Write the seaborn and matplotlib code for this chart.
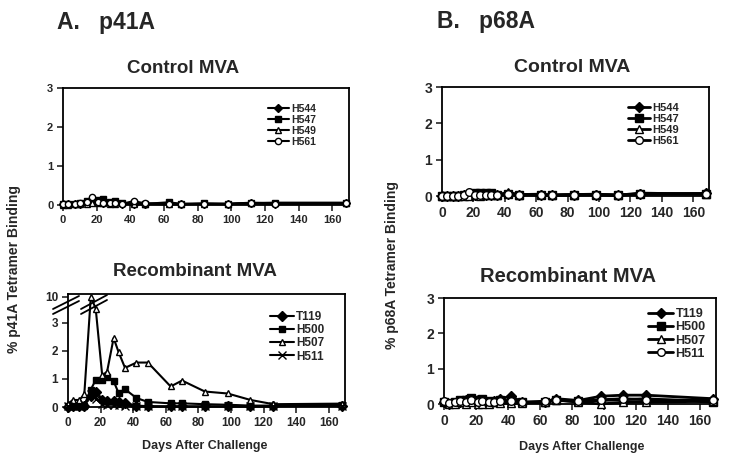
import numpy as np
import pandas as pd
import matplotlib
matplotlib.use("Agg")
import matplotlib.pyplot as plt
import seaborn as sns

# Sampling days (same schedule in every panel)
days = [0, 3, 7, 10, 14, 17, 21, 24, 28, 31, 35, 42, 49, 63, 70, 84, 98, 112, 126, 168]

# A. p41A - control MVA
a_ctrl_h544 = [0.03, 0.02, 0.02, 0.03, 0.08, 0.10, 0.07, 0.06, 0.05, 0.04, 0.03, 0.03, 0.03, 0.04, 0.03, 0.03, 0.03, 0.04, 0.03, 0.05]
a_ctrl_h547 = [0.02, 0.02, 0.03, 0.04, 0.10, 0.12, 0.13, 0.15, 0.08, 0.10, 0.05, 0.04, 0.03, 0.07, 0.03, 0.04, 0.03, 0.05, 0.06, 0.06]
a_ctrl_h549 = [0.01, 0.01, 0.02, 0.03, 0.02, 0.05, 0.05, 0.04, 0.03, 0.02, 0.04, 0.02, 0.03, 0.02, 0.02, 0.03, 0.03, 0.06, 0.04, 0.04]
a_ctrl_h561 = [0.03, 0.02, 0.02, 0.04, 0.08, 0.20, 0.08, 0.06, 0.05, 0.04, 0.03, 0.10, 0.04, 0.03, 0.02, 0.03, 0.02, 0.05, 0.03, 0.04]

# A. p41A - recombinant MVA
a_rec_t119 = [0.00, 0.02, 0.02, 0.05, 0.40, 0.55, 0.25, 0.20, 0.20, 0.18, 0.15, 0.05, 0.03, 0.02, 0.02, 0.02, 0.02, 0.02, 0.03, 0.05]
a_rec_h500 = [0.02, 0.05, 0.03, 0.05, 0.62, 0.96, 0.95, 1.08, 0.92, 0.50, 0.63, 0.32, 0.18, 0.13, 0.13, 0.10, 0.08, 0.05, 0.05, 0.08]
a_rec_h507 = [0.12, 0.25, 0.25, 0.45, 10.0, 3.50, 1.12, 1.26, 2.45, 1.96, 1.39, 1.58, 1.58, 0.73, 0.94, 0.55, 0.48, 0.25, 0.10, 0.12]
a_rec_h511 = [0.02, 0.02, 0.05, 0.10, 0.45, 0.30, 0.10, 0.08, 0.08, 0.07, 0.05, 0.03, 0.02, 0.02, 0.02, 0.02, 0.02, 0.02, 0.03, 0.05]

# B. p68A - control MVA
b_ctrl_h544 = [0.00, 0.00, 0.00, 0.01, 0.02, 0.03, 0.04, 0.05, 0.04, 0.03, 0.03, 0.05, 0.03, 0.03, 0.02, 0.03, 0.04, 0.02, 0.05, 0.07]
b_ctrl_h547 = [0.00, 0.00, 0.00, 0.01, 0.02, 0.04, 0.08, 0.08, 0.08, 0.08, 0.04, 0.06, 0.04, 0.03, 0.02, 0.03, 0.03, 0.02, 0.06, 0.06]
b_ctrl_h549 = [0.00, 0.00, 0.00, 0.00, 0.00, 0.01, 0.02, 0.01, 0.02, 0.02, 0.03, 0.10, 0.04, 0.05, 0.02, 0.04, 0.05, 0.02, 0.08, 0.05]
b_ctrl_h561 = [0.00, 0.00, 0.00, 0.01, 0.02, 0.10, 0.03, 0.02, 0.02, 0.02, 0.03, 0.05, 0.03, 0.04, 0.03, 0.04, 0.04, 0.03, 0.05, 0.06]

# B. p68A - recombinant MVA
b_rec_t119 = [0.05, 0.00, 0.02, 0.05, 0.10, 0.12, 0.10, 0.10, 0.05, 0.08, 0.15, 0.22, 0.05, 0.05, 0.15, 0.10, 0.22, 0.25, 0.25, 0.15]
b_rec_h500 = [0.05, 0.02, 0.05, 0.10, 0.12, 0.18, 0.10, 0.15, 0.08, 0.05, 0.10, 0.10, 0.05, 0.05, 0.10, 0.08, 0.10, 0.12, 0.15, 0.05]
b_rec_h507 = [0.08, 0.00, 0.00, 0.05, 0.00, 0.05, 0.00, 0.00, 0.00, 0.05, 0.02, 0.02, 0.03, 0.05, 0.12, 0.05, 0.00, 0.05, 0.05, 0.08]
b_rec_h511 = [0.08, 0.02, 0.05, 0.08, 0.05, 0.10, 0.05, 0.08, 0.05, 0.05, 0.08, 0.08, 0.05, 0.08, 0.10, 0.08, 0.12, 0.15, 0.12, 0.10]

ctrl_names = ["H544", "H547", "H549", "H561"]
rec_names = ["T119", "H500", "H507", "H511"]

W, H = 730, 463

def box(left, top, right, bottom):
    return [left / W, 1 - bottom / H, (right - left) / W, (bottom - top) / H]

def ftxt(x, y, s, **kw):
    fig.text(x / W, 1 - y / H, s, **kw)

sns.set_style("ticks")
plt.rcParams["font.family"] = ["Liberation Sans", "DejaVu Sans"]
plt.rcParams["font.weight"] = "bold"

fig = plt.figure(figsize=(7.3, 4.63), dpi=100)

def draw(ax, names, series, markers, ms, lw, fs_tick, fs_leg, leg_xy):
    for name, vals, (mk, face) in zip(names, series, markers):
        sns.lineplot(x=days, y=vals, ax=ax, color="black", marker=mk,
                     markersize=ms if mk != "x" else ms + 1,
                     markerfacecolor=face, markeredgecolor="black",
                     markeredgewidth=1.0, linewidth=lw, label=name,
                     clip_on=False, zorder=3)
    ax.set_xlim(0, 170)
    ax.set_xticks(range(0, 161, 20))
    ax.set_xlabel("")
    ax.set_ylabel("")
    for sp in ax.spines.values():
        sp.set_visible(True)
        sp.set_linewidth(1.3)
        sp.set_color("black")
    ax.tick_params(direction="out", length=4, width=1.2, labelsize=fs_tick, pad=3)
    for lab in ax.get_xticklabels() + ax.get_yticklabels():
        lab.set_fontweight("bold")
    leg = ax.legend(loc="upper left", bbox_to_anchor=(leg_xy[0] / W, 1 - leg_xy[1] / H),
                    bbox_transform=fig.transFigure, frameon=False, fontsize=fs_leg,
                    handlelength=2.0, handletextpad=0.2, labelspacing=0.1,
                    borderpad=0, borderaxespad=0)
    for t in leg.get_texts():
        t.set_fontweight("bold")

ctrl_markers = [("D", "black"), ("s", "black"), ("^", "white"), ("o", "white")]
rec_markers_a = [("D", "black"), ("s", "black"), ("^", "white"), ("x", "black")]
rec_markers_b = [("D", "black"), ("s", "black"), ("^", "white"), ("o", "white")]

# A top: control p41A
ax1 = fig.add_axes(box(63, 88, 349, 205))
draw(ax1, ctrl_names, [a_ctrl_h544, a_ctrl_h547, a_ctrl_h549, a_ctrl_h561],
     ctrl_markers, 4.5, 1.5, 8, 7.5, (268, 104))
ax1.set_ylim(0, 3)
ax1.set_yticks([0, 1, 2, 3])

# A bottom: recombinant p41A, broken y axis
brk, slope = 3.5, 0.0646

def fwd(v):
    v = np.asarray(v, dtype=float)
    return np.where(v <= brk, v, brk + (v - brk) * slope)

def inv(d):
    d = np.asarray(d, dtype=float)
    return np.where(d <= brk, d, brk + (d - brk) / slope)

ax2 = fig.add_axes(box(68, 294, 345, 407))
ax2.set_yscale("function", functions=(fwd, inv))
draw(ax2, rec_names, [a_rec_t119, a_rec_h500, a_rec_h507, a_rec_h511],
     rec_markers_a, 5, 1.5, 8.5, 8.5, (270, 311))
ax2.set_ylim(0, 11.5)
ax2.set_yticks([0, 1, 2, 3, 10])
ax2.set_yticklabels(["0", "1", "2", "3", "10"], fontweight="bold")
ax2.minorticks_off()

# break marks
for (x0, y0, x1, y1) in [(53, 314, 79, 301), (53, 309, 79, 296),
                          (81, 314, 107, 300), (81, 309, 107, 295)]:
    fig.add_artist(plt.Line2D([x0 / W, x1 / W], [1 - y0 / H, 1 - y1 / H],
                              color="black", lw=1.3, transform=fig.transFigure))

# B top: control p68A
ax3 = fig.add_axes(box(442, 87, 709, 196))
draw(ax3, ctrl_names, [b_ctrl_h544, b_ctrl_h547, b_ctrl_h549, b_ctrl_h561],
     ctrl_markers, 5.5, 2.0, 10, 8, (628, 103))
ax3.set_ylim(0, 3)
ax3.set_yticks([0, 1, 2, 3])

# B bottom: recombinant p68A
ax4 = fig.add_axes(box(444, 298, 716, 404))
draw(ax4, rec_names, [b_rec_t119, b_rec_h500, b_rec_h507, b_rec_h511],
     rec_markers_b, 5.5, 2.0, 10, 9, (648, 308))
ax4.set_ylim(0, 3)
ax4.set_yticks([0, 1, 2, 3])

# Texts
ftxt(57, 29, "A.   p41A", fontsize=16.5, fontweight="bold", ha="left", va="baseline")
ftxt(437, 28, "B.   p68A", fontsize=16.5, fontweight="bold", ha="left", va="baseline")
ftxt(183, 73, "Control MVA", fontsize=13.5, fontweight="bold", ha="center", va="baseline")
ftxt(572, 72, "Control MVA", fontsize=14, fontweight="bold", ha="center", va="baseline")
ftxt(195, 276, "Recombinant MVA", fontsize=13.5, fontweight="bold", ha="center", va="baseline")
ftxt(568, 282, "Recombinant MVA", fontsize=14.5, fontweight="bold", ha="center", va="baseline")
ftxt(14, 269, "% p41A Tetramer Binding", fontsize=10, fontweight="bold", rotation=90,
     ha="center", va="center")
ftxt(392, 265, "% p68A Tetramer Binding", fontsize=10, fontweight="bold", rotation=90,
     ha="center", va="center")
ftxt(205, 446, "Days After Challenge", fontsize=9, fontweight="bold", ha="center", va="center")
ftxt(582, 447, "Days After Challenge", fontsize=9, fontweight="bold", ha="center", va="center")

fig.savefig("out.png", dpi=100)
